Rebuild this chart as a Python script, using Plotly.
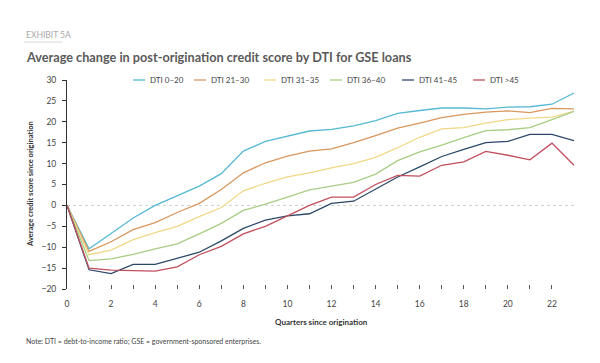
import plotly.graph_objects as go

quarters = list(range(0, 24))
series_names = ["DTI 0–20", "DTI 21–30", "DTI 31–35", "DTI 36–40", "DTI 41–45", "DTI >45"]
dti_0_20 = [0, -10.4, -6.7, -3.0, 0.0, 2.3, 4.6, 7.6, 13.0, 15.3, 16.5, 17.8, 18.2, 19.0, 20.3, 22.0, 22.7, 23.3, 23.3, 23.1, 23.5, 23.6, 24.2, 26.9]
dti_21_30 = [0, -11.0, -8.7, -5.8, -4.1, -1.7, 0.5, 3.8, 7.8, 10.2, 11.8, 13.0, 13.5, 15.0, 16.7, 18.5, 19.7, 21.0, 21.8, 22.3, 22.6, 22.2, 23.2, 23.1]
dti_31_35 = [0, -11.8, -10.7, -8.2, -6.5, -5.0, -2.7, -0.5, 3.5, 5.3, 6.8, 7.8, 9.0, 10.0, 11.5, 13.8, 16.3, 18.3, 18.6, 19.7, 20.5, 20.9, 21.1, 22.5]
dti_36_40 = [0, -13.2, -12.8, -11.7, -10.4, -9.2, -6.8, -4.3, -1.2, 0.3, 2.0, 3.7, 4.6, 5.5, 7.5, 10.7, 12.8, 14.4, 16.2, 17.9, 18.1, 18.6, 20.5, 22.5]
dti_41_45 = [0, -15.4, -16.3, -14.1, -14.1, -12.7, -11.2, -8.5, -5.5, -3.5, -2.5, -2.0, 0.5, 1.0, 4.0, 6.8, 9.2, 11.7, 13.4, 15.0, 15.3, 17.0, 17.0, 15.5]
dti_over_45 = [0, -15.0, -15.5, -15.6, -15.7, -14.7, -11.8, -9.8, -6.8, -5.0, -2.5, 0.0, 2.0, 2.0, 5.0, 7.2, 7.0, 9.6, 10.4, 12.9, 12.0, 10.9, 14.9, 9.6]
all_series = [dti_0_20, dti_21_30, dti_31_35, dti_36_40, dti_41_45, dti_over_45]

y_ticks = [-20, -15, -10, -5, 0, 5, 10, 15, 20, 25, 30]
x_tick_vals = list(range(0, 23))
x_tick_text = [str(v) if v % 2 == 0 else "" for v in x_tick_vals]

colors = ["#56b9d3", "#d8975f", "#f1d886", "#a7cd85", "#2c4868", "#c24f5d"]
FONT = "Lato"

fig = go.Figure()
for name, vals, col in zip(series_names, all_series, colors):
    fig.add_trace(go.Scatter(x=quarters, y=vals, mode="lines", name=name,
                             line=dict(color=col, width=1.3), showlegend=False))

OFF = 8  # page body margin
W, H = 600 - OFF, 363 - OFF
L, T = 67 - OFF, 80 - OFF
R = W - (574 - OFF)
B = H - (289 - OFF)
pw = W - L - R
ph = H - T - B

def px_x(px):
    return (px - OFF - L) / pw

def px_y(py):
    return 1 - (py - OFF - T) / ph

shapes = []
annotations = []
shapes.append(dict(type="line", xref="paper", yref="y", x0=0, x1=1, y0=0, y1=0,
                   line=dict(color="#cfcfcf", width=1, dash="dot"), layer="below"))
legend_line_starts = [133, 194, 264, 330, 402, 473]
for name, col, x0 in zip(series_names, colors, legend_line_starts):
    shapes.append(dict(type="line", xref="paper", yref="paper",
                       x0=px_x(x0), x1=px_x(x0 + 12), y0=px_y(80), y1=px_y(80),
                       line=dict(color=col, width=1.3)))
    annotations.append(dict(xref="paper", yref="paper", x=px_x(x0 + 15), y=px_y(80),
                            text=name, showarrow=False, xanchor="left", yanchor="middle",
                            font=dict(family=FONT, size=8, color="#444444")))

annotations.append(dict(xref="paper", yref="paper", x=px_x(24), y=px_y(35),
                        text="EXHIBIT 5A", showarrow=False, xanchor="left", yanchor="middle",
                        font=dict(family=FONT, size=8.5, color="#a8a8a8")))
shapes.append(dict(type="line", xref="paper", yref="paper", x0=px_x(24), x1=px_x(62),
                   y0=px_y(42), y1=px_y(42), line=dict(color="#d8d8d8", width=1)))
annotations.append(dict(xref="paper", yref="paper", x=px_x(24), y=px_y(57),
                        text="<b>Average change in post-origination credit score by DTI for GSE loans</b>",
                        showarrow=False, xanchor="left", yanchor="middle",
                        font=dict(family=FONT, size=12.7, color="#5a5a5a")))
annotations.append(dict(xref="paper", yref="paper", x=px_x(24), y=px_y(341),
                        text="Note: DTI = debt-to-income ratio; GSE = government-sponsored enterprises.",
                        showarrow=False, xanchor="left", yanchor="middle",
                        font=dict(family=FONT, size=7, color="#444444")))
annotations.append(dict(xref="paper", yref="paper", x=px_x(321), y=px_y(322),
                        text="<b>Quarters since origination</b>",
                        showarrow=False, xanchor="center", yanchor="middle",
                        font=dict(family=FONT, size=8, color="#333333")))
annotations.append(dict(xref="paper", yref="paper", x=px_x(30), y=px_y(184),
                        text="<b>Average credit score since origination</b>", textangle=-90,
                        showarrow=False, xanchor="center", yanchor="middle",
                        font=dict(family=FONT, size=7.5, color="#333333")))

fig.update_layout(
    width=W, height=H,
    margin=dict(l=L, r=R, t=T, b=B),
    paper_bgcolor="white", plot_bgcolor="white",
    font=dict(family=FONT, size=8.5, color="#444444"),
    shapes=shapes, annotations=annotations,
    showlegend=False,
)
fig.update_xaxes(range=[0, 23], showgrid=False, zeroline=False, showline=False,
                 tickmode="array", tickvals=x_tick_vals, ticktext=x_tick_text,
                 ticks="inside", ticklen=4, tickcolor="#555555", tickwidth=1,
                 ticklabelstandoff=8, tickfont=dict(size=8.5, color="#444444"))
fig.update_yaxes(range=[-20, 30], showgrid=False, zeroline=False,
                 showline=True, linecolor="#333333", linewidth=1,
                 tickmode="array", tickvals=y_ticks,
                 ticks="outside", ticklen=4, tickcolor="#333333",
                 ticklabelstandoff=4, tickfont=dict(size=8.5, color="#444444"))

fig.write_html("out.html")
